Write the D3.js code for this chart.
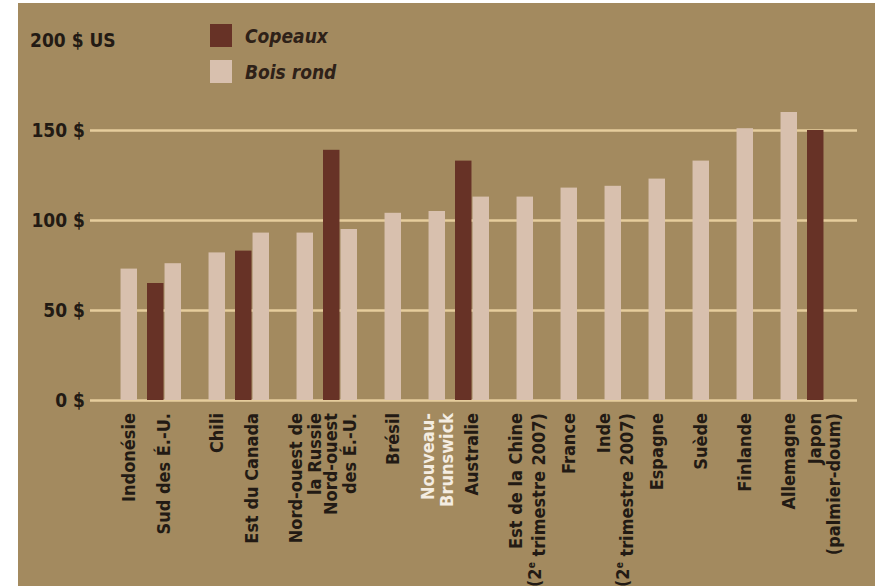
<!DOCTYPE html>
<meta charset="utf-8">
<style>
body {
  margin: 0;
  background: #fff;
}
.axis .domain {
  display: none;
}
.axis text, .label, .unit {
  font-family: "DejaVu Sans Condensed", "DejaVu Sans", sans-serif;
  font-stretch: condensed;
  font-weight: bold;
  fill: #221a14;
}
.legend text {
  font-family: "DejaVu Sans Condensed", "DejaVu Sans", sans-serif;
  font-stretch: condensed;
  font-style: italic;
  font-weight: bold;
  fill: #2e2118;
}
</style>
<body>
<svg width="875" height="586"></svg>
<script src="https://cdn.jsdelivr.net/npm/d3@7"></script>
<script>
// values in $ US
var categories = ["Indonésie", "Sud des É.-U.", "Chili", "Est du Canada",
  "Nord-ouest de\nla Russie", "Nord-ouest\ndes É.-U.", "Brésil", "Nouveau-\nBrunswick",
  "Australie", "Est de la Chine\n(2^e trimestre 2007)", "France", "Inde\n(2^e trimestre 2007)",
  "Espagne", "Suède", "Finlande", "Allemagne", "Japon\n(palmier-doum)"];
var copeaux   = [null, 65, null, 83, null, 139, null, null, 133, null, null, null, null, null, null, null, 150];
var boisRond  = [73, 76, 82, 93, 93, 95, 104, 105, 113, 113, 118, 119, 123, 133, 151, 160, null];
var keys = ["Copeaux", "Bois rond"];
var yTicks = [0, 50, 100, 150];
var highlight = "Nouveau-\nBrunswick";

var svg = d3.select("svg"),
    margin = {top: 40, right: 18, bottom: 186, left: 90},
    width = +svg.attr("width") - margin.left - margin.right,
    height = +svg.attr("height") - margin.top - margin.bottom;

// brown panel
svg.append("rect")
    .attr("x", 18).attr("y", 3)
    .attr("width", 875 - 18).attr("height", 586 - 3)
    .attr("fill", "#a38a5f");

var g = svg.append("g").attr("transform", "translate(" + margin.left + "," + margin.top + ")");

var data = categories.map(function(c, i) {
  return {name: c, "Copeaux": copeaux[i], "Bois rond": boisRond[i]};
});

var x0 = d3.scaleBand()
    .domain(categories)
    .range([13, 751])
    .paddingInner(10 / 44);

var x1 = d3.scaleBand()
    .domain(keys)
    .range([0, x0.bandwidth()])
    .paddingInner(0.06);

var y = d3.scaleLinear()
    .domain([0, 200])
    .range([height, 0]);

var z = d3.scaleOrdinal()
    .domain(keys)
    .range(["#673226", "#d8c0ae"]);

// gridlines + tick labels
var axis = g.append("g")
    .attr("class", "axis")
    .call(d3.axisLeft(y).tickValues(yTicks).tickSize(-width).tickPadding(5)
      .tickFormat(function(d) { return d + " $"; }));
axis.selectAll(".tick line")
    .attr("stroke", "#e6cd9c")
    .attr("stroke-width", 2.5);
axis.selectAll(".tick text")
    .attr("font-size", 19)
    .attr("dy", "0.35em");

// unit label sits where the 200 tick would be, left aligned
g.append("text")
    .attr("class", "unit")
    .attr("x", 30 - margin.left)
    .attr("y", y(200))
    .attr("dy", "0.35em")
    .attr("font-size", 19)
    .text("200 $ US");

// bars
g.append("g")
  .selectAll("g")
  .data(data)
  .enter().append("g")
    .attr("transform", function(d) { return "translate(" + x0(d.name) + ",0)"; })
  .selectAll("rect")
  .data(function(d) { return keys.filter(function(k) { return d[k] != null; })
      .map(function(k) { return {key: k, value: d[k]}; }); })
  .enter().append("rect")
    .attr("x", function(d) { return x1(d.key); })
    .attr("y", function(d) { return y(d.value); })
    .attr("width", x1.bandwidth())
    .attr("height", function(d) { return y(0) - y(d.value); })
    .attr("fill", function(d) { return z(d.key); });

// category labels, rotated
var labelX = function(d) {
  if (d["Copeaux"] != null) return x0(d.name) + x0.bandwidth() / 2;
  return x0(d.name) + x1("Bois rond") + x1.bandwidth() / 2;
};
var lineH = 19;
var label = g.append("g")
  .selectAll("text")
  .data(data)
  .enter().append("text")
    .attr("class", "label")
    .attr("font-size", 18)
    .attr("text-anchor", "end")
    .attr("transform", function(d) { return "translate(" + labelX(d) + "," + (height + 13) + ") rotate(-90)"; })
    .style("fill", function(d) { return d.name === highlight ? "#f4ede2" : null; });

label.each(function(d) {
  var lines = d.name.split("\n"),
      t = d3.select(this);
  lines.forEach(function(line, i) {
    var off = (i - (lines.length - 1) / 2) * lineH;
    var parts = line.split("^e");
    t.append("tspan").attr("x", 0).attr("y", off).attr("dy", "0.35em").text(parts[0]);
    if (parts.length > 1) {
      t.append("tspan").attr("font-size", 10).attr("dy", "-0.6em").text("e");
      t.append("tspan").attr("dy", "0.6em").text(parts[1]);
    }
  });
});

// legend
var legend = svg.append("g")
    .attr("class", "legend")
  .selectAll("g")
  .data(keys)
  .enter().append("g")
    .attr("transform", function(d, i) { return "translate(210," + (24 + i * 36) + ")"; });

legend.append("rect")
    .attr("width", 22)
    .attr("height", 23)
    .attr("fill", z);

legend.append("text")
    .attr("x", 35)
    .attr("y", 12)
    .attr("dy", "0.35em")
    .attr("font-size", 19)
    .text(function(d) { return d; });
</script>
</body>
